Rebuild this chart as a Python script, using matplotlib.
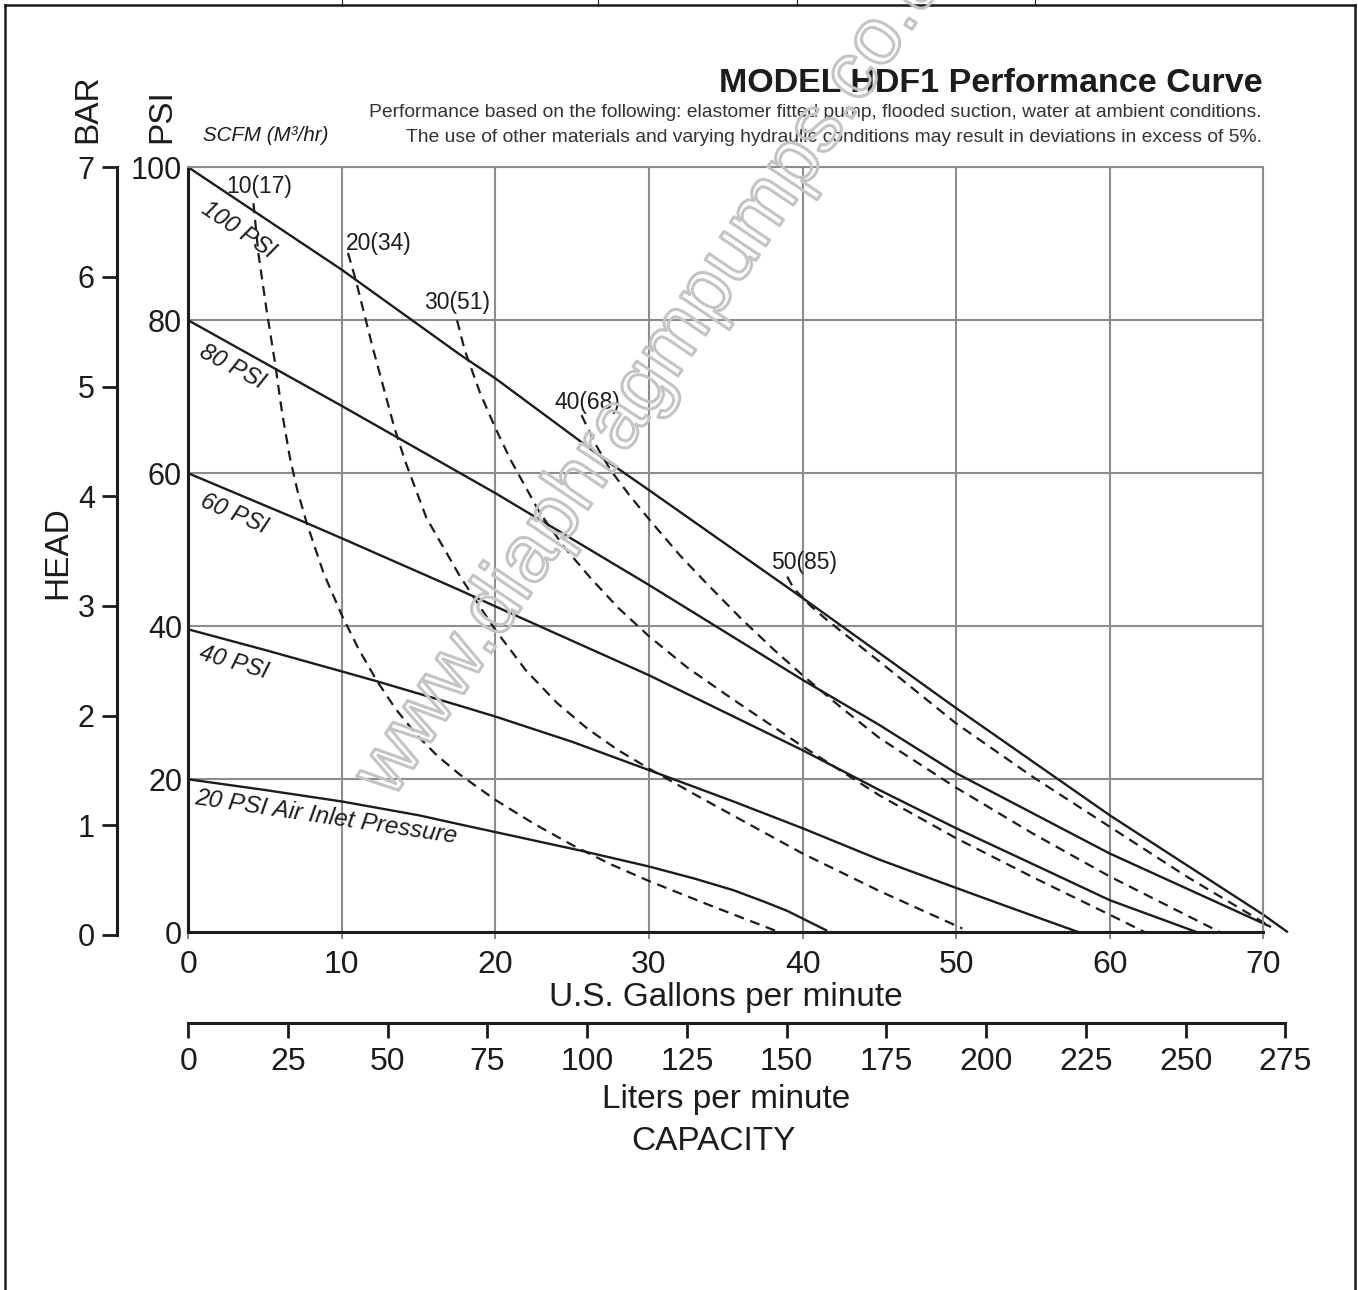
import matplotlib.pyplot as plt
import matplotlib.patheffects as pe
from matplotlib.lines import Line2D

plt.rcParams['font.family'] = ['Liberation Sans', 'DejaVu Sans']

# air inlet pressure curves (gpm, psi head)
p100_gpm = [0, 10, 17.7, 20, 27.2, 30, 40, 45, 50, 60, 70, 71.6]
p100_psi = [100, 86.6, 75.5, 72.4, 61.7, 57.8, 43.7, 36.5, 29.3, 15.3, 2.3, 0]
p80_gpm = [0, 10, 20, 30, 40, 45, 50, 60, 70.5]
p80_psi = [80, 68.8, 57.4, 45.4, 33.0, 27.1, 20.8, 10.3, 0.7]
p60_gpm = [0, 7.7, 10, 17.7, 20, 30, 40, 45, 50, 56.5, 60, 65.7]
p60_psi = [60, 53.5, 51.5, 44.7, 42.6, 33.6, 23.8, 18.6, 13.6, 7.5, 4.2, 0]
p40_gpm = [0, 5, 10, 12.3, 15, 17.7, 20, 25, 30, 35.5, 40, 45, 50, 53.7, 58]
p40_psi = [39.6, 36.9, 34.1, 32.8, 31.2, 29.6, 28.2, 24.9, 21.2, 17.1, 13.6,
           9.5, 5.8, 3.1, 0]
p20_gpm = [0, 5, 10, 15, 17.7, 20, 25.5, 30, 33, 35.5, 37.5, 39, 40.5, 41.6]
p20_psi = [20, 18.6, 17.1, 15.3, 14.1, 13.1, 10.7, 8.6, 7.0, 5.5, 4.0, 2.8,
           1.3, 0.2]

# air consumption curves, SCFM (m3/hr)
s10_gpm = [4.24, 4.56, 5.1, 5.65, 6.1, 6.62, 7.1, 7.71, 8.8, 10.03, 11.1,
           12.27, 13.5, 14.87, 16.2, 17.69, 20, 22.5, 25.1, 27.5, 30, 34, 38.5]
s10_psi = [95.3, 88.8, 81.3, 74.4, 68.0, 62.0, 57.8, 53.5, 47.0, 41.3, 37.0,
           32.9, 29.2, 25.8, 23.1, 20.6, 17.3, 14.2, 11.3, 8.9, 6.7, 3.5, 0]
s20_gpm = [10.4, 10.9, 12.0, 13.4, 14.1, 15.5, 17.7, 20, 22, 24, 26, 28, 30,
           33, 35.9, 40, 45, 50.4]
s20_psi = [88.8, 85.3, 76.5, 66.1, 61.7, 54.2, 46.5, 39.5, 34.2, 30.0, 26.6,
           23.8, 21.4, 18.0, 14.8, 10.3, 5.4, 0.5]
s30_gpm = [17.5, 18.0, 19.0, 20.0, 21.0, 22.9, 24.5, 26.2, 28, 30, 32.5, 35.5,
           40, 45, 50, 55, 60, 62.3]
s30_psi = [80, 76.1, 70.5, 65.9, 61.7, 54.8, 50.3, 46.3, 42.4, 38.7, 34.6,
           30.4, 24.3, 17.9, 12.3, 7.2, 2.3, 0]
s40_gpm = [25.6, 26.6, 27.5, 28.7, 30, 32, 33.8, 36, 38.1, 40, 42.5, 45, 50,
           55, 60, 67.2]
s40_psi = [67.6, 63.5, 60.4, 57.2, 54.0, 49.3, 45.5, 41.0, 37.0, 33.6, 29.4,
           25.4, 18.9, 12.9, 7.3, 0]
s50_gpm = [39.0, 39.4, 40.5, 41.6, 45, 50, 55, 60, 65, 70.5]
s50_psi = [46.5, 45.0, 42.7, 40.8, 35.4, 27.3, 20.3, 13.8, 7.3, 0.7]

gpm_ticks = [0, 10, 20, 30, 40, 50, 60, 70]
psi_ticks = [0, 20, 40, 60, 80, 100]
bar_ticks = [0, 1, 2, 3, 4, 5, 6, 7]
lpm_ticks = [0, 25, 50, 75, 100, 125, 150, 175, 200, 225, 250, 275]

W, H = 1358, 1290
ink = '#1c1c1c'
gridc = '#8c8c8c'


def box(x0, y0, x1, y1):
    # pixel box (from top left) -> figure fraction rect
    return [x0 / W, 1 - y1 / H, (x1 - x0) / W, (y1 - y0) / H]


def fx(x):
    return x / W


def fy(y):
    return 1 - y / H


fig = plt.figure(figsize=(W / 100, H / 100), dpi=100)

# main chart
ax = fig.add_axes(box(188.3, 167.3, 1263.3, 932.3))
ax.set_xlim(0, 70)
ax.set_ylim(0, 100)
ax.set_xticks(gpm_ticks)
ax.set_yticks(psi_ticks)
ax.grid(True, color=gridc, lw=1.5)
ax.set_axisbelow(True)
for s in ['left', 'bottom']:
    ax.spines[s].set_color(ink)
    ax.spines[s].set_linewidth(2.2)
for s in ['top', 'right']:
    ax.spines[s].set_color(gridc)
    ax.spines[s].set_linewidth(1.5)
ax.tick_params(axis='y', length=0, pad=4.5, labelsize=22, labelcolor=ink)
ax.tick_params(axis='x', length=5, width=1.5, color=gridc, pad=8,
               labelsize=23, labelcolor=ink)

solid = dict(color=ink, lw=1.7, clip_on=False, solid_capstyle='butt')
dashed = dict(color=ink, lw=1.6, ls=(0, (4.5, 3)), clip_on=False)
for xs, ys in [(p100_gpm, p100_psi), (p80_gpm, p80_psi), (p60_gpm, p60_psi),
               (p40_gpm, p40_psi), (p20_gpm, p20_psi)]:
    ax.plot(xs, ys, **solid)
for xs, ys in [(s10_gpm, s10_psi), (s20_gpm, s20_psi), (s30_gpm, s30_psi),
               (s40_gpm, s40_psi), (s50_gpm, s50_psi)]:
    ax.plot(xs, ys, **dashed)

# curve labels
lab = dict(color=ink, style='italic', ha='center', va='center',
           rotation_mode='anchor')
ax.text(3.3, 91.8, '100 PSI', rotation=-34, size=17, **lab)
ax.text(2.9, 73.9, '80 PSI', rotation=-28, size=17, **lab)
ax.text(3.0, 54.7, '60 PSI', rotation=-23, size=17, **lab)
ax.text(2.95, 35.3, '40 PSI', rotation=-16, size=17, **lab)
ax.text(9.0, 15.1, '20 PSI Air Inlet Pressure', rotation=-8.5, size=17.5,
        **lab)

scfm = dict(color=ink, size=16.5, ha='center', va='center')
ax.text(4.6, 97.5, '10(17)', **scfm)
ax.text(12.4, 90.1, '20(34)', **scfm)
ax.text(17.5, 82.3, '30(51)', **scfm)
ax.text(26.0, 69.3, '40(68)', **scfm)
ax.text(40.1, 48.4, '50(85)', **scfm)

# bar scale
axb = fig.add_axes(box(117, 167.3, 118, 935))
axb.set_ylim(0, 7)
axb.set_yticks(bar_ticks)
axb.set_xticks([])
axb.patch.set_visible(False)
for s in ['top', 'right', 'bottom']:
    axb.spines[s].set_visible(False)
axb.spines['left'].set_color(ink)
axb.spines['left'].set_linewidth(2.2)
axb.tick_params(axis='y', length=11, width=2, color=ink, pad=5,
                labelsize=22, labelcolor=ink)

# liters per minute scale
axl = fig.add_axes(box(188.3, 1022.3, 1285.3, 1023.3))
axl.set_xlim(0, 275)
axl.set_xticks(lpm_ticks)
axl.set_yticks([])
axl.patch.set_visible(False)
for s in ['top', 'right', 'left']:
    axl.spines[s].set_visible(False)
axl.spines['bottom'].set_color(ink)
axl.spines['bottom'].set_linewidth(2.2)
axl.tick_params(axis='x', length=11, width=2, color=ink, pad=6,
                labelsize=23, labelcolor=ink)

# axis titles
fig.text(fx(725.5), fy(1006), 'U.S. Gallons per minute', ha='center',
         va='baseline', size=24, color=ink)
fig.text(fx(726), fy(1108), 'Liters per minute', ha='center',
         va='baseline', size=24, color=ink)
fig.text(fx(713), fy(1150), 'CAPACITY', ha='center', va='baseline',
         size=24, color=ink)
fig.text(fx(58), fy(552.5), 'HEAD', rotation=90, ha='center', va='center',
         size=24, color=ink)
fig.text(fx(87.5), fy(108.3), 'BAR', rotation=90, ha='center', va='center',
         size=24, color=ink)
fig.text(fx(161.7), fy(115.8), 'PSI', rotation=90, ha='center', va='center',
         size=24, color=ink)
fig.text(fx(203), fy(140.7), 'SCFM (M³/hr)', style='italic', size=14.8,
         va='baseline', color=ink)

# title block
fig.text(fx(1262.7), fy(91.7), 'MODEL HDF1 Performance Curve', ha='right',
         va='baseline', size=24.5, weight='bold', color=ink)
fig.text(fx(1261.7), fy(116.7),
         'Performance based on the following: elastomer fitted pump, '
         'flooded suction, water at ambient conditions.',
         ha='right', va='baseline', size=13.9, color='#333333')
fig.text(fx(1261.7), fy(141.7),
         'The use of other materials and varying hydraulic conditions '
         'may result in deviations in excess of 5%.',
         ha='right', va='baseline', size=13.9, color='#333333')

# watermark (runs off the top edge, as in the source sheet)
fig.text(fx(392), fy(800), 'www.diaphragmpumps.co.uk', rotation=56,
         rotation_mode='anchor', ha='left', va='baseline', size=58,
         color='none', zorder=5,
         path_effects=[pe.Stroke(linewidth=2.2, foreground='#c4c4c4')])

# page frame
frame = dict(color=ink, lw=1.8, transform=fig.transFigure)
fig.add_artist(Line2D([fx(5.2), fx(5.2)], [fy(4.5), 0], **frame))
fig.add_artist(Line2D([fx(1355.4), fx(1355.4)], [fy(4.5), 0], **frame))
fig.add_artist(Line2D([fx(5.2), fx(1355.4)], [fy(4.5), fy(4.5)], **frame))
for xd in [341.7, 597.6, 797, 1034.5]:
    fig.add_artist(Line2D([fx(xd), fx(xd)], [1, fy(4.5)], color=ink, lw=0.8,
                          transform=fig.transFigure))

fig.savefig('out.png', dpi=100)
